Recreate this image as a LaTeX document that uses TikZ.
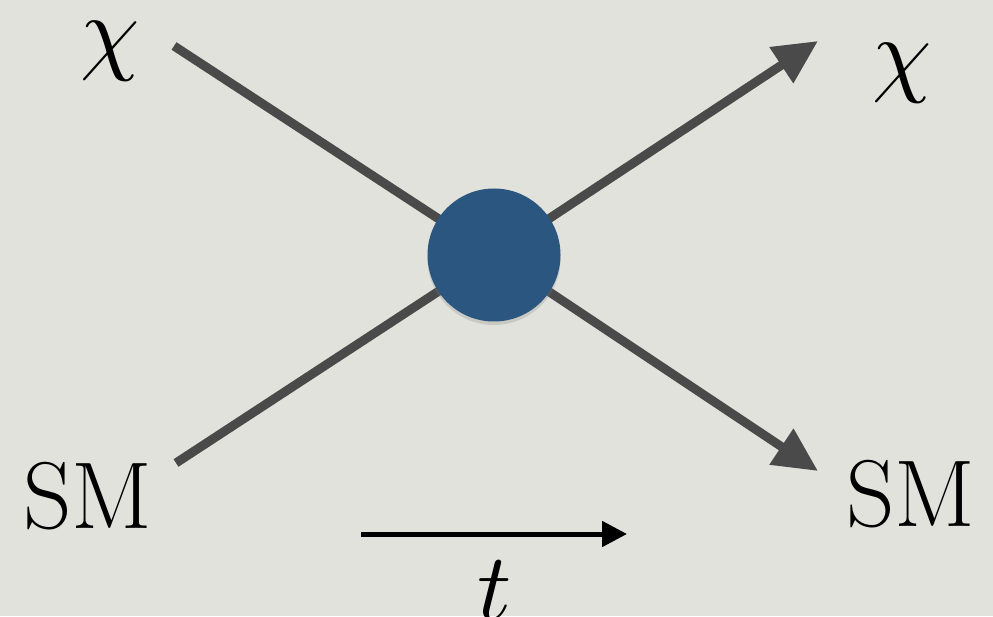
\documentclass[tikz,border=0pt]{standalone}
\usepackage{fontspec}
\usepackage{unicode-math}
\usepackage{tikz}
\usetikzlibrary{arrows.meta,calc,positioning,shadows}
\definecolor{paper}{HTML}{E2E2DC}
\definecolor{linegray}{HTML}{4A4A4A}
\definecolor{blobblue}{HTML}{2B5680}
\tikzset{
  prop/.style={linegray, line width=0.18cm},
  propout/.style={linegray, line width=0.18cm, -{Triangle[length=0.88cm, width=0.82cm]}},
  timearrow/.style={black, line width=0.1cm, -{Triangle[length=0.5cm, width=0.5cm]}},
  blob/.style={circle, fill=blobblue, minimum size=2.66cm, inner sep=0pt, drop shadow={shadow xshift=0pt, shadow yshift=-2pt, opacity=0.25}},
  lbl/.style={inner sep=0pt, font=\fontsize{54}{60}\selectfont}
}
\begin{document}
\begin{tikzpicture}
  \fill[paper] (0,0) rectangle (19.86,12.32);
  \useasboundingbox (0,0) rectangle (19.86,12.32);
  % vertex and external legs
  \coordinate (v) at (9.88,7.22);
  \coordinate (chiin) at (3.48,11.40);
  \coordinate (smin) at (3.52,3.06);
  \coordinate (chiout) at (16.36,11.50);
  \coordinate (smout) at (16.36,2.90);
  \draw[prop] (chiin) -- (v);
  \draw[prop] (smin) -- (v);
  \draw[propout] (v) -- (chiout);
  \draw[propout] (v) -- (smout);
  \node[blob] (vtx) at (v) {};
  % labels
  \node[lbl] (chiL) at (2.20,11.30) {$\chi$};
  \node[lbl] (chiR) at (18.04,10.86) {$\chi$};
  \node[lbl] (smL) at (1.76,2.40) {SM};
  \node[lbl] (smR) at (18.22,2.44) {SM};
  % time direction
  \coordinate (ta) at (7.22,1.64);
  \coordinate (tb) at (12.54,1.64);
  \draw[timearrow] (ta) -- (tb);
  \node[lbl, anchor=north] (tlbl) at (9.90,1.12) {$t$};
\end{tikzpicture}
\end{document}
